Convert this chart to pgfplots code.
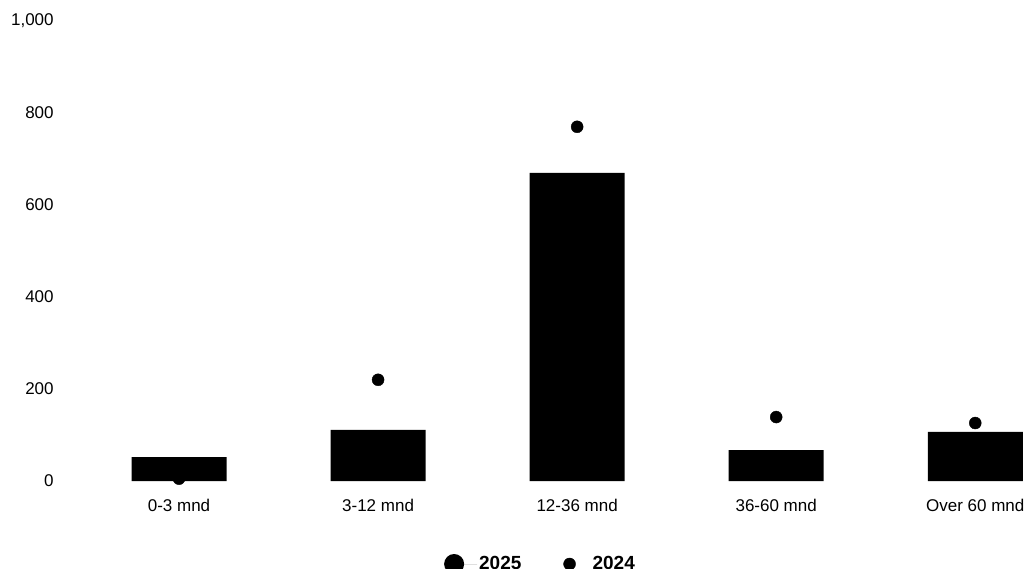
\documentclass[border=0pt]{standalone}
\usepackage{fontspec}
\setmainfont{Liberation Sans}
\usepackage{pgfplots}
\pgfplotsset{compat=1.18}
\begin{document}
\fontsize{17bp}{20bp}\selectfont
\begin{tikzpicture}
\useasboundingbox (0,0) rectangle (1029bp,569bp);
\begin{axis}[
  at={(79.5bp,88bp)}, anchor=south west,
  scale only axis, width=949.5bp, height=460bp,
  xmin=-0.5, xmax=4.27, ymin=0, ymax=1000,
  clip=false,
  axis line style={draw=none},
  major tick length=0pt,
  xtick={0,1,2,3,4},
  xticklabels={0-3 mnd,3-12 mnd,12-36 mnd,36-60 mnd,Over 60 mnd},
  ytick={0,200,400,600,800,1000},
  /pgf/number format/assume math mode=true,
  /pgf/number format/1000 sep={,},
  ticklabel style={font=\fontsize{17bp}{20bp}\selectfont},
  xticklabel style={yshift=-12bp},
  yticklabel style={xshift=-20bp},
  legend columns=2,
  legend style={draw=none, at={(0.4855,0)}, anchor=center, yshift=-83bp,
    font=\fontsize{19bp}{22bp}\selectfont\bfseries,
    /tikz/every even column/.append style={column sep=40bp}},
]
\addplot[ybar, bar width=95bp, fill=black, draw=none,
  legend image code/.code={\path[draw=none] (-10bp,0) -- (23bp,0); \fill[black] (0,0) circle (10bp);}]
  coordinates {(0,52) (1,111) (2,670) (3,67) (4,107)};
\addlegendentry{2025}
\addplot[only marks, mark=*, mark size=6bp, black,
  legend image code/.code={\path[draw=none] (-6bp,0) -- (21bp,0); \fill[black] (0,0) circle (6bp);}]
  coordinates {(0,5) (1,220) (2,770) (3,139) (4,126)};
\addlegendentry{2024}
\end{axis}
\end{tikzpicture}
\end{document}
